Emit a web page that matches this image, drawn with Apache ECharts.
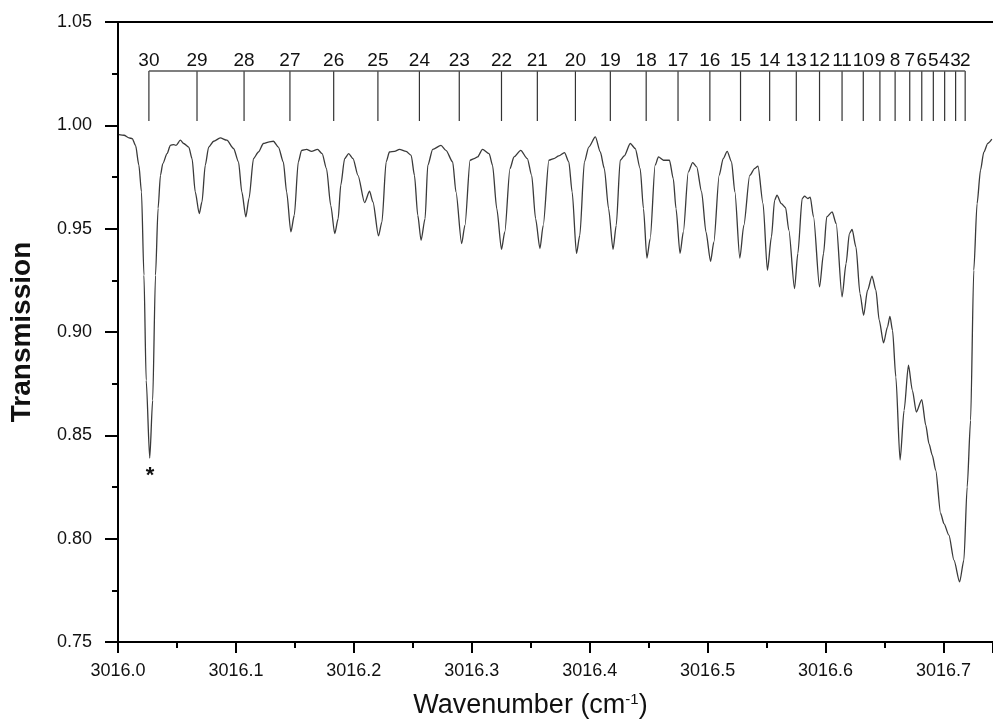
<!DOCTYPE html>
<html>
<head>
<meta charset="utf-8">
<script src="https://cdn.jsdelivr.net/npm/echarts@6/dist/echarts.min.js"></script>
<style>
  html, body { margin: 0; padding: 0; background: #fff; }
  #chart { width: 993px; height: 726px; }
</style>
</head>
<body>
<div id="chart"></div>
<script>
// Measured transmission spectrum (wavenumber in cm^-1)
const wavenumber = [
  3016.0008,3016.0051,3016.0093,3016.0121,3016.0149,3016.0177,3016.0199,3016.0220,3016.0239,3016.0269,
  3016.0294,3016.0318,3016.0340,3016.0360,3016.0380,3016.0416,3016.0444,3016.0473,3016.0492,3016.0529,
  3016.0557,3016.0600,3016.0628,3016.0655,3016.0689,3016.0712,3016.0740,3016.0769,3016.0811,3016.0867,
  3016.0923,3016.0980,3016.1022,3016.1050,3016.1084,3016.1111,3016.1149,3016.1191,3016.1233,3016.1275,
  3016.1318,3016.1360,3016.1402,3016.1430,3016.1466,3016.1495,3016.1529,3016.1557,3016.1599,3016.1641,
  3016.1692,3016.1731,3016.1768,3016.1804,3016.1838,3016.1867,3016.1889,3016.1922,3016.1956,3016.1993,
  3016.2035,3016.2091,3016.2133,3016.2162,3016.2209,3016.2238,3016.2274,3016.2302,3016.2345,3016.2387,
  3016.2443,3016.2486,3016.2514,3016.2542,3016.2570,3016.2604,3016.2627,3016.2669,3016.2739,3016.2781,
  3016.2838,3016.2866,3016.2914,3016.2942,3016.2986,3016.3020,3016.3049,3016.3091,3016.3147,3016.3176,
  3016.3212,3016.3252,3016.3280,3016.3324,3016.3358,3016.3415,3016.3471,3016.3508,3016.3541,3016.3578,
  3016.3606,3016.3654,3016.3696,3016.3738,3016.3786,3016.3823,3016.3851,3016.3888,3016.3916,3016.3955,
  3016.3992,3016.4048,3016.4090,3016.4124,3016.4160,3016.4198,3016.4225,3016.4259,3016.4293,3016.4344,
  3016.4386,3016.4428,3016.4456,3016.4485,3016.4513,3016.4555,3016.4583,3016.4625,3016.4676,3016.4709,
  3016.4732,3016.4766,3016.4794,3016.4836,3016.4873,3016.4907,3016.4949,3016.4986,3016.5025,3016.5053,
  3016.5098,3016.5132,3016.5166,3016.5203,3016.5231,3016.5273,3016.5307,3016.5357,3016.5400,3016.5427,
  3016.5470,3016.5507,3016.5541,3016.5568,3016.5588,3016.5625,3016.5661,3016.5689,3016.5737,3016.5765,
  3016.5802,3016.5822,3016.5850,3016.5870,3016.5898,3016.5949,3016.5983,3016.6010,3016.6056,3016.6090,
  3016.6140,3016.6174,3016.6202,3016.6225,3016.6258,3016.6292,3016.6323,3016.6356,3016.6394,3016.6427,
  3016.6455,3016.6492,3016.6525,3016.6546,3016.6568,3016.6596,3016.6632,3016.6666,3016.6703,3016.6736,
  3016.6770,3016.6816,3016.6850,3016.6877,3016.6905,3016.6934,3016.6976,3016.7004,3016.7046,3016.7089,
  3016.7137,3016.7173,3016.7201,3016.7230,3016.7257,3016.7285,3016.7314,3016.7342,3016.7376,3016.7410
];

const transmission = [
  0.9955,0.9952,0.9939,0.9936,0.9903,0.9807,0.9678,0.9275,0.8767,0.8390,
  0.8670,0.9275,0.9599,0.9758,0.9815,0.9863,0.9903,0.9907,0.9903,0.9928,
  0.9912,0.9895,0.9839,0.9678,0.9573,0.9629,0.9807,0.9895,0.9923,0.9939,
  0.9928,0.9888,0.9823,0.9678,0.9557,0.9646,0.9839,0.9871,0.9912,0.9919,
  0.9923,0.9895,0.9823,0.9678,0.9484,0.9565,0.9823,0.9879,0.9884,0.9874,
  0.9884,0.9863,0.9791,0.9613,0.9476,0.9549,0.9710,0.9839,0.9863,0.9839,
  0.9758,0.9626,0.9681,0.9629,0.9465,0.9532,0.9823,0.9871,0.9874,0.9884,
  0.9874,0.9855,0.9758,0.9565,0.9444,0.9549,0.9807,0.9884,0.9903,0.9879,
  0.9823,0.9678,0.9428,0.9516,0.9831,0.9839,0.9847,0.9884,0.9863,0.9807,
  0.9597,0.9400,0.9484,0.9791,0.9847,0.9879,0.9839,0.9758,0.9549,0.9404,
  0.9516,0.9831,0.9839,0.9852,0.9868,0.9823,0.9678,0.9380,0.9468,0.9823,
  0.9895,0.9944,0.9871,0.9791,0.9597,0.9400,0.9516,0.9831,0.9852,0.9912,
  0.9888,0.9791,0.9597,0.9358,0.9452,0.9807,0.9847,0.9831,0.9831,0.9742,
  0.9597,0.9380,0.9484,0.9774,0.9820,0.9799,0.9678,0.9484,0.9342,0.9436,
  0.9758,0.9839,0.9874,0.9823,0.9678,0.9358,0.9516,0.9758,0.9792,0.9802,
  0.9621,0.9299,0.9460,0.9637,0.9662,0.9621,0.9602,0.9492,0.9210,0.9380,
  0.9646,0.9657,0.9646,0.9653,0.9557,0.9218,0.9380,0.9557,0.9581,0.9525,
  0.9170,0.9331,0.9476,0.9496,0.9411,0.9186,0.9081,0.9202,0.9270,0.9202,
  0.9057,0.8947,0.9024,0.9076,0.9008,0.8783,0.8380,0.8621,0.8839,0.8718,
  0.8613,0.8673,0.8549,0.8460,0.8404,0.8331,0.8122,0.8073,0.8017,0.7896,
  0.7791,0.7896,0.8250,0.8573,0.9299,0.9621,0.9783,0.9870,0.9913,0.9933
];

// Line assignments (J numbering) and their positions
const lineNumbers = [30,29,28,27,26,25,24,23,22,21,20,19,18,17,16,15,14,13,12,11,10,9,8,7,6,5,4,3,2];
const linePositions = [
  3016.0262,3016.0670,3016.1069,3016.1458,3016.1829,3016.2204,3016.2556,3016.2894,3016.3252,3016.3556,
  3016.3879,3016.4175,3016.4479,3016.4749,3016.5019,3016.5279,3016.5526,3016.5752,3016.5949,3016.6140,
  3016.6320,3016.6461,3016.6590,3016.6714,3016.6816,3016.6914,3016.7010,3016.7103,3016.7184
];
const combTop = 1.0263;
const combBottom = 1.0021;

// Marked line (asterisk)
const starPoint = [3016.0272, 0.8305];

const FONT = '"Liberation Sans", Arial, Helvetica, sans-serif';
const chart = echarts.init(document.getElementById('chart'), null, { renderer: 'canvas' });

const spectrum = wavenumber.map((w, i) => [w, transmission[i]]);
const comb = linePositions.map((w, i) => [w, combTop, lineNumbers[i]]);
const combBar = [[linePositions[0], combTop], [linePositions[linePositions.length - 1], combTop]];

const option = {
  animation: false,
  backgroundColor: '#fff',
  grid: { left: 116, right: 0, top: 22, bottom: 84, containLabel: false },
  xAxis: [
    {
      type: 'value',
      position: 'bottom',
      min: 3016.0,
      max: 3016.742,
      interval: 0.1,
      axisLine: { show: true, onZero: false, lineStyle: { color: '#000', width: 2 } },
      axisTick: { show: true, inside: false, length: 11, lineStyle: { color: '#000', width: 2 } },
      minorTick: { show: true, splitNumber: 2, length: 6, lineStyle: { color: '#000', width: 2 } },
      splitLine: { show: false },
      axisLabel: {
        margin: 20, fontSize: 18, color: '#111', fontFamily: FONT,
        showMaxLabel: false,
        formatter: v => v.toFixed(1)
      },
      name: '{a|Wavenumber (cm}{s|-1}{a|)}',
      nameLocation: 'middle',
      nameGap: 50,
      nameTextStyle: {
        padding: [0, 50, 0, 0],
        rich: {
          a: { fontSize: 27, fontFamily: FONT, color: '#111' },
          s: { fontSize: 15, fontFamily: FONT, color: '#111', verticalAlign: 'top', padding: [0, 0, 12, 0] }
        }
      }
    },
    {
      type: 'value',
      position: 'top',
      min: 3016.0,
      max: 3016.742,
      axisLine: { show: true, onZero: false, lineStyle: { color: '#000', width: 2 } },
      axisTick: { show: false },
      axisLabel: { show: false },
      splitLine: { show: false }
    }
  ],
  yAxis: {
    type: 'value',
    min: 0.75,
    max: 1.05,
    interval: 0.05,
    axisLine: { show: true, onZero: false, lineStyle: { color: '#000', width: 2 } },
    axisTick: { show: true, inside: false, length: 13, lineStyle: { color: '#000', width: 2 } },
    minorTick: { show: true, splitNumber: 2, length: 6, lineStyle: { color: '#000', width: 2 } },
    splitLine: { show: false },
    axisLabel: { margin: 26, fontSize: 18, color: '#111', fontFamily: FONT, formatter: v => v.toFixed(2) },
    name: 'Transmission',
    nameLocation: 'middle',
    nameGap: 82,
    nameTextStyle: { fontSize: 28, fontWeight: 'bold', fontFamily: FONT, color: '#111' }
  },
  series: [
    {
      name: 'spectrum',
      type: 'line',
      data: spectrum,
      symbol: 'none',
      smooth: 0.25,
      smoothMonotone: 'x',
      lineStyle: { color: '#3a3a3a', width: 1.3 },
      silent: true
    },
    {
      name: 'comb bar',
      type: 'line',
      data: combBar,
      symbol: 'none',
      lineStyle: { color: '#555', width: 1.6 },
      silent: true
    },
    {
      name: 'assignments',
      type: 'custom',
      data: comb,
      encode: { x: 0, y: 1 },
      silent: true,
      renderItem: (params, api) => {
        const w = api.value(0);
        const top = api.coord([w, combTop]);
        const bot = api.coord([w, combBottom]);
        return {
          type: 'group',
          children: [
            {
              type: 'line',
              shape: { x1: top[0], y1: top[1], x2: bot[0], y2: bot[1] },
              style: { stroke: '#333', lineWidth: 1.2 }
            },
            {
              type: 'text',
              x: top[0],
              y: top[1] - 1,
              style: {
                text: String(api.value(2)),
                fontSize: 19, fontFamily: FONT, fill: '#111',
                align: 'center', verticalAlign: 'bottom'
              }
            }
          ]
        };
      }
    },
    {
      name: 'marker',
      type: 'custom',
      data: [starPoint],
      encode: { x: 0, y: 1 },
      silent: true,
      renderItem: (params, api) => {
        const p = api.coord([api.value(0), api.value(1)]);
        return {
          type: 'text',
          x: p[0],
          y: p[1],
          style: { text: '*', fontSize: 22, fontWeight: 'bold', fontFamily: FONT, fill: '#111', align: 'center', verticalAlign: 'middle' }
        };
      }
    }
  ]
};

chart.setOption(option);
</script>
</body>
</html>
